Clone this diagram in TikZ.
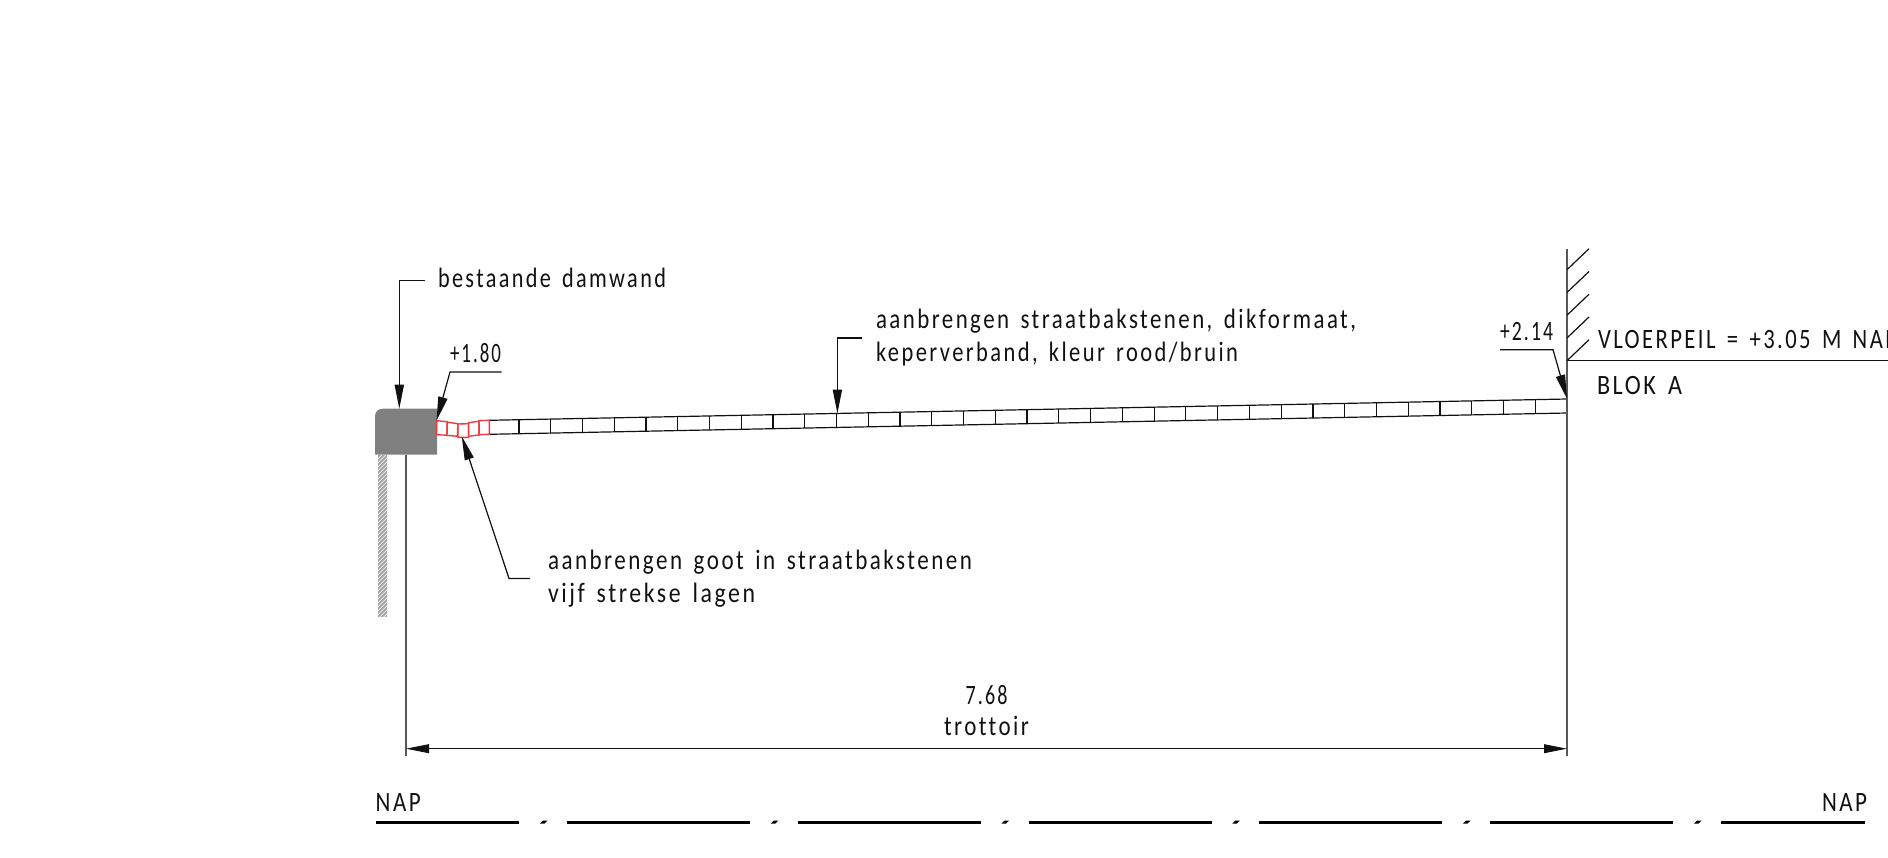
\documentclass[tikz,border=0pt]{standalone}
\usepackage{fontspec}
\setmainfont[FakeStretch=0.84,LetterSpace=9,WordSpace=1.5,Ligatures=NoCommon]{Carlito}
\usetikzlibrary{arrows.meta}
\definecolor{blockgray}{HTML}{808080}
\definecolor{pilegray}{HTML}{A6A6A6}
\definecolor{brickred}{HTML}{F03A40}
\definecolor{ink}{HTML}{111111}
\newcommand{\fitw}[2]{\resizebox{#1pt}{\height}{#2}}
\tikzset{
  cadline/.style={draw=ink,line width=0.6pt},
  leader/.style={cadline,-{Triangle[length=12pt,width=4.6pt]}},
  dimline/.style={cadline,{Triangle[length=11.5pt,width=4.4pt]}-{Triangle[length=11.5pt,width=4.4pt]}},
  wall/.style={draw=ink!70,line width=0.65pt},
  brick/.style={draw=ink,line width=0.6pt},
  redbrick/.style={draw=brickred,line width=0.7pt},
  napdash/.style={draw=black,line width=1.5pt},
  txt/.style={anchor=base west,inner sep=0pt,outer sep=0pt,text=ink,font=\fontsize{14}{16}\selectfont},
  txtc/.style={txt,anchor=base}
}
\begin{document}
\begin{tikzpicture}[x=0.5pt,y=-0.5pt]
\useasboundingbox (0,0) rectangle (1888,857);
\clip (0,0) rectangle (1888,857);
\begin{scope}[yshift=-0.35pt]
% block and sheet pile
\fill[pilegray] (378,454) rectangle (387,616);
\begin{scope}
\clip (378,454) rectangle (387,616);
\foreach \yy in {454,458,...,628}
  \draw[white,line width=0.25pt] (378,\yy) -- (387,\yy-9);
\end{scope}
\fill[blockgray] (375,454) -- (375,416) .. controls (375,411) and (378,408) .. (383,408) -- (437,408) -- (437,454) -- cycle;
% pavement
\coordinate (padTL) at (489,419.6);
\coordinate (padTR) at (1567,398.3);
\coordinate (padBL) at (489,433.6);
\coordinate (padBR) at (1567,412.3);
\draw[brick] (padTL) -- (padTR) (padBL) -- (padBR);
\foreach \k in {1,...,33}{
  \pgfmathsetmacro{\xx}{1567-31.76*\k}
  \pgfmathsetmacro{\yt}{398.3+31.76*\k*0.01976}
  \draw[brick] (\xx,\yt) -- (\xx,\yt+14);
}
% red gutter
\draw[redbrick] (436.7,420) -- (447.3,421) -- (447,434.5) -- (436.5,434) -- cycle;
\draw[redbrick] (447.2,421.5) -- (457.8,423) -- (457.5,435.5) -- (447,434.7) -- cycle;
\draw[redbrick] (457.8,423.3) -- (468.5,423) -- (468.5,436.7) -- (458,436.7) -- cycle;
\draw[redbrick] (468.5,422) -- (479,420.5) -- (479.2,434.2) -- (468.7,435.5) -- cycle;
\draw[redbrick] (479,420) -- (489.3,419.6) -- (489.3,433.6) -- (479.2,434) -- cycle;
% wall and floor
\coordinate (wallT) at (1567,248);
\coordinate (wallB) at (1567,755);
\coordinate (floorL) at (1567,360);
\coordinate (floorR) at (1888,360);
\coordinate (dimLT) at (406,454);
\coordinate (dimLB) at (406,755);
\draw[wall] (wallT) -- (wallB);
\draw[wall] (dimLT) -- (dimLB);
\draw[cadline] (floorL) -- (floorR);
\foreach \yy in {269,291.75,314.5,337.25,360}
  \draw[brick] (1567,\yy) -- (1589,\yy-21);
% dimension
\coordinate (dimA) at (406,748);
\coordinate (dimB) at (1567,748);
\draw[dimline] (dimA) -- (dimB);
% leaders
\coordinate (l1a) at (425,280);
\coordinate (l1b) at (399.3,280);
\coordinate (l1c) at (399.3,408);
\draw[leader] (l1a) -- (l1b) -- (l1c);
\coordinate (l2a) at (501.7,371.3);
\coordinate (l2b) at (450,371.3);
\coordinate (l2c) at (436.5,420);
\draw[leader] (l2a) -- (l2b) -- (l2c);
\coordinate (l3a) at (862,337.3);
\coordinate (l3b) at (837.4,337.3);
\coordinate (l3c) at (837.4,412.8);
\draw[leader] (l3a) -- (l3b) -- (l3c);
\coordinate (l4a) at (530,577.7);
\coordinate (l4b) at (509,577.7);
\coordinate (l4c) at (461.7,435.5);
\draw[leader] (l4a) -- (l4b) -- (l4c);
\coordinate (l5a) at (1500,349);
\coordinate (l5b) at (1553,349);
\coordinate (l5c) at (1567,398);
\draw[leader] (l5a) -- (l5b) -- (l5c);
% NAP line
\draw[napdash] (375.7,821.3) -- (519.3,821.3);
\foreach \s in {567,797.8,1028.6,1259.4,1490.2}
  \draw[napdash] (\s,821.3) -- (\s+183,821.3);
\draw[napdash] (1721,821.3) -- (1865,821.3);
\foreach \s in {540,770.8,1001.6,1232.4,1463.2,1694}
  \fill[black] (\s,822.8) -- (\s+3,819.8) -- (\s+7.5,819.8) -- (\s+4.5,822.8) -- cycle;
\end{scope}
% text
\node[txt] (t1) at (438,287.5) {\fitw{114}{bestaande damwand}};
\node[txt] (t2) at (450,362) {\fitw{25.5}{+1.80}};
\node[txt] (t3) at (876,328.5) {\fitw{240}{aanbrengen straatbakstenen, dikformaat,}};
\node[txt] (t4) at (876,361) {\fitw{181}{keperverband, kleur rood/bruin}};
\node[txt] (t5) at (548,569.5) {\fitw{212}{aanbrengen goot in straatbakstenen}};
\node[txt] (t6) at (548,602.5) {\fitw{103.5}{vijf strekse lagen}};
\node[txtc] (t7) at (986.5,704) {\fitw{21}{7.68}};
\node[txtc] (t8) at (986.5,735) {\fitw{42.5}{trottoir}};
\node[txt] (t9) at (375.7,811) {\fitw{22.5}{NAP}};
\node[txt] (t10) at (1822,811) {\fitw{22.5}{NAP}};
\node[txt] (t11) at (1500,340) {\fitw{26.5}{+2.14}};
\node[txt] (t12) at (1598,348.5) {\fitw{149.5}{VLOERPEIL = +3.05 M NAP}};
\node[txt] (t13) at (1597,394.5) {\fitw{42.5}{BLOK A}};
\end{tikzpicture}
\end{document}
